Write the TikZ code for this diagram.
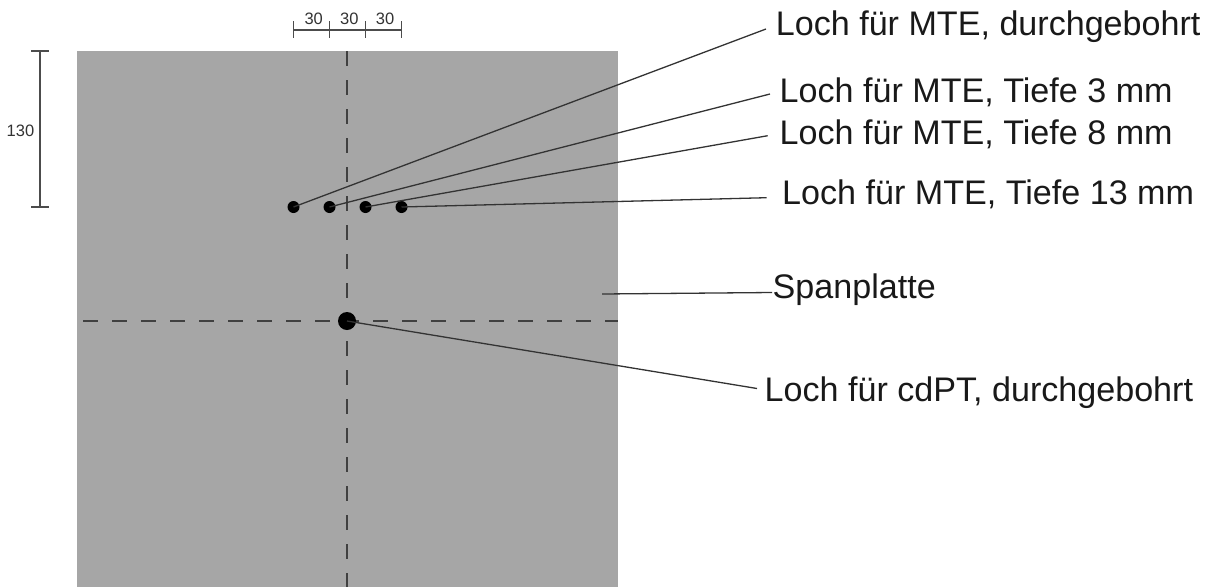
\documentclass[tikz,border=0pt]{standalone}
\usepackage{fontspec}
\setmainfont{Liberation Sans}
\tikzset{
  plate/.style={fill=platefill,draw=none},
  axisline/.style={draw=black!75,line width=1.7pt,dash pattern=on 15pt off 14pt},
  dim/.style={draw=black!70,line width=1.2pt},
  leader/.style={draw=black!80,line width=1.3pt},
  smalldot/.style={circle,fill=black,inner sep=0pt,minimum size=12pt},
  bigdot/.style={circle,fill=black,inner sep=0pt,minimum size=18pt},
  biglabel/.style={font=\fontsize{34.1}{34}\selectfont,anchor=base west,inner sep=0pt,text=black!90},
  smalllabel/.style={font=\fontsize{16.5}{16.5}\selectfont,inner sep=0pt,text=black!80}
}
\definecolor{platefill}{RGB}{166,166,166}
\begin{document}
\begin{tikzpicture}[x=1pt,y=-1pt]
\useasboundingbox (0,0) rectangle (1212,587);
\fill[plate] (77,51) rectangle (618,587);
\draw[axisline] (347,51) -- (347,587);
\draw[axisline] (83,321) -- (618,321);
% holes
\node[smalldot] (h1) at (293.5,207) {};
\node[smalldot] (h2) at (329.5,207) {};
\node[smalldot] (h3) at (365.5,207) {};
\node[smalldot] (h4) at (401.5,207) {};
\node[bigdot] (hc) at (347,321) {};
% labels
\node[biglabel] (l1) at (775.7,35) {Loch für MTE, durchgebohrt};
\node[biglabel] (l2) at (779.5,102) {Loch für MTE, Tiefe 3 mm};
\node[biglabel] (l3) at (779.5,144.5) {Loch für MTE, Tiefe 8 mm};
\node[biglabel] (l4) at (782,204) {Loch für MTE, Tiefe 13 mm};
\node[biglabel] (l5) at (772.5,298) {Spanplatte};
\node[biglabel] (l6) at (764.5,401) {Loch für cdPT, durchgebohrt};
% leaders
\coordinate (e1) at (766,29);
\coordinate (e2) at (770,94);
\coordinate (e3) at (767.7,135.7);
\coordinate (e4) at (766.7,197.7);
\coordinate (e5) at (772,292.5);
\coordinate (e6) at (757,388.5);
\coordinate (s5) at (602,294);
\draw[leader] (h1.center) -- (e1);
\draw[leader] (h2.center) -- (e2);
\draw[leader] (h3.center) -- (e3);
\draw[leader] (h4.center) -- (e4);
\draw[leader] (s5) -- (e5);
\draw[leader] (hc.center) -- (e6);
% top dimension
\coordinate (d0) at (293.5,30);
\coordinate (d3) at (401.5,30);
\draw[dim] (d0) -- (d3);
\draw[dim] (293.5,21) -- (293.5,38);
\draw[dim] (329.5,21) -- (329.5,38);
\draw[dim] (365.5,21) -- (365.5,38);
\draw[dim] (401.5,21) -- (401.5,38);
\node[smalllabel] (t1) at (313.7,19.3) {30};
\node[smalllabel] (t2) at (349.3,19.3) {30};
\node[smalllabel] (t3) at (385,19.3) {30};
% left dimension
\coordinate (v0) at (40,51);
\coordinate (v1) at (40,207);
\draw[dim] (v0) -- (v1);
\draw[dim] (31,51) -- (49,51);
\draw[dim] (31,207) -- (49,207);
\node[smalllabel] (t4) at (20.5,131) {130};
\end{tikzpicture}
\end{document}
